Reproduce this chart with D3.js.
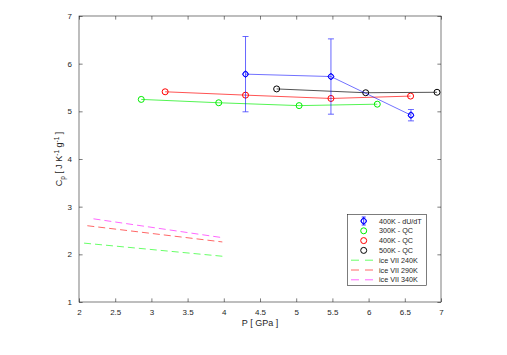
<!DOCTYPE html>
<html><head><meta charset="utf-8">
<script src="https://cdn.jsdelivr.net/npm/d3@7"></script>
<style>body{margin:0;background:#fff}svg{display:block}text{font-family:Helvetica,"Liberation Sans",Arial,sans-serif}</style>
</head><body><svg id="c" width="507" height="355"></svg>
<script>
const xTicks = [2, 2.5, 3, 3.5, 4, 4.5, 5, 5.5, 6, 6.5, 7];
const yTicks = [1, 2, 3, 4, 5, 6, 7];

const blueP = [4.30, 5.48, 6.585];
const blueCp = [5.78, 5.73, 4.92];
const blueErr = [0.79, 0.79, 0.12];

const greenP = [2.86, 3.93, 5.04, 6.12];
const greenCp = [5.25, 5.18, 5.12, 5.15];

const redP = [3.19, 4.30, 5.48, 6.58];
const redCp = [5.41, 5.34, 5.27, 5.32];

const blackP = [4.73, 5.96, 6.945];
const blackCp = [5.47, 5.39, 5.40];

const ice240P = [2.07, 3.98];
const ice240Cp = [2.235, 1.96];
const ice290P = [2.115, 3.98];
const ice290Cp = [2.60, 2.26];
const ice340P = [2.20, 3.98];
const ice340Cp = [2.745, 2.35];

const legendLabels = ["400K - dU/dT","300K - QC","400K - QC","500K - QC","ice VII 240K","ice VII 290K","ice VII 340K"];

const svg = d3.select("#c");
const L = 79, R = 441, T = 16, B = 302;
const x = d3.scaleLinear().domain([2, 7]).range([L, R]);
const y = d3.scaleLinear().domain([1, 7]).range([B, T]);
const axCol = "#262626";
const tl = 3.6;

svg.append("rect").attr("x", L).attr("y", T).attr("width", R - L).attr("height", B - T)
  .attr("fill", "#fff").attr("stroke", axCol).attr("stroke-width", 0.6);

const fmt = d => String(d);
const gx = svg.append("g").attr("transform", `translate(0,${B})`)
  .call(d3.axisBottom(x).tickValues(xTicks).tickFormat(fmt).tickSizeInner(-tl).tickSizeOuter(0).tickPadding(7));
const gxt = svg.append("g").attr("transform", `translate(0,${T})`)
  .call(d3.axisTop(x).tickValues(xTicks).tickFormat("").tickSizeInner(-tl).tickSizeOuter(0));
const gy = svg.append("g").attr("transform", `translate(${L},0)`)
  .call(d3.axisLeft(y).tickValues(yTicks).tickFormat(fmt).tickSizeInner(-tl).tickSizeOuter(0).tickPadding(7));
const gyr = svg.append("g").attr("transform", `translate(${R},0)`)
  .call(d3.axisRight(y).tickValues(yTicks).tickFormat("").tickSizeInner(-tl).tickSizeOuter(0));
[gx, gxt, gy, gyr].forEach(g => {
  g.select(".domain").remove();
  g.selectAll("line").attr("stroke", axCol).attr("stroke-width", 0.6);
  g.selectAll("text").attr("fill", axCol).attr("font-size", 8);
});

svg.append("text").attr("x", (L + R) / 2).attr("y", 326).attr("text-anchor", "middle")
  .attr("font-size", 9).attr("fill", axCol).text("P [ GPa ]");

const yl = svg.append("text").attr("transform", `translate(62,${(T + B) / 2}) rotate(-90)`)
  .attr("text-anchor", "middle").attr("font-size", 9).attr("fill", axCol);
yl.append("tspan").text("C");
yl.append("tspan").attr("font-size", 6.5).attr("dy", 2.5).text("p");
yl.append("tspan").attr("dy", -2.5).text(" [ J K");
yl.append("tspan").attr("font-size", 6.5).attr("dy", -3.5).text("-1");
yl.append("tspan").attr("dy", 3.5).text(" g");
yl.append("tspan").attr("font-size", 6.5).attr("dy", -3.5).text("-1");
yl.append("tspan").attr("dy", 3.5).text(" ]");

const line = d3.line().x(d => x(d[0])).y(d => y(d[1]));
const zip = (a, b) => a.map((v, i) => [v, b[i]]);

// ice VII dashed lines
[[ice240P, ice240Cp, "#00ff00"], [ice290P, ice290Cp, "#ff0000"], [ice340P, ice340Cp, "#ff00ff"]].forEach(([p, c, col]) => {
  svg.append("path").attr("d", line(zip(p, c))).attr("fill", "none").attr("stroke", col)
    .attr("stroke-width", 0.8).attr("stroke-dasharray", "7,4").attr("opacity", 0.75);
});

function series(p, c, col) {
  const d = zip(p, c);
  svg.append("path").attr("d", line(d)).attr("fill", "none").attr("stroke", col).attr("stroke-width", 0.8).attr("opacity", 0.85);
  svg.selectAll(null).data(d).enter().append("circle")
    .attr("cx", d => x(d[0])).attr("cy", d => y(d[1])).attr("r", 3)
    .attr("fill", "none").attr("stroke", col).attr("stroke-width", 1);
}
series(greenP, greenCp, "#00ee00");
series(redP, redCp, "#ff0000");
series(blackP, blackCp, "#000000");

// blue with error bars
const bcol = "#0000ff";
const bd = zip(blueP, blueCp);
svg.append("path").attr("d", line(bd)).attr("fill", "none").attr("stroke", bcol).attr("stroke-width", 0.8).attr("opacity", 0.7);
blueP.forEach((p, i) => {
  const cx = x(p), y1 = y(blueCp[i] + blueErr[i]), y0 = y(blueCp[i] - blueErr[i]);
  const g = svg.append("g").attr("stroke", bcol).attr("stroke-width", 0.8).attr("opacity", 0.75);
  g.append("line").attr("x1", cx).attr("x2", cx).attr("y1", y1).attr("y2", y0);
  g.append("line").attr("x1", cx - 3).attr("x2", cx + 3).attr("y1", y1).attr("y2", y1);
  g.append("line").attr("x1", cx - 3).attr("x2", cx + 3).attr("y1", y0).attr("y2", y0);
});
function blueMarker(cx, cy) {
  svg.append("circle").attr("cx", cx).attr("cy", cy).attr("r", 2.6).attr("fill", "none").attr("stroke", bcol).attr("stroke-width", 1);
  svg.append("path").attr("d", `M${cx},${cy - 3.5}L${cx + 3},${cy}L${cx},${cy + 3.5}L${cx - 3},${cy}Z`)
    .attr("fill", "none").attr("stroke", bcol).attr("stroke-width", 0.8);
}
bd.forEach(d => blueMarker(x(d[0]), y(d[1])));

// legend
const lx = 347.5, ly = 214.5, lw = 79, lh = 71;
svg.append("rect").attr("x", lx).attr("y", ly).attr("width", lw).attr("height", lh)
  .attr("fill", "#fff").attr("stroke", axCol).attr("stroke-width", 0.6);
const rowY = i => 221 + i * 9.8;
const mx = 363.7;
legendLabels.forEach((lab, i) => {
  const yy = rowY(i);
  svg.append("text").attr("x", 379).attr("y", yy + 2.6).attr("font-size", 7.2).attr("fill", axCol).text(lab);
});
// blue legend marker with small error bar
(function () {
  const yy = rowY(0);
  const g = svg.append("g").attr("stroke", bcol).attr("stroke-width", 0.8);
  g.append("line").attr("x1", mx).attr("x2", mx).attr("y1", yy - 4).attr("y2", yy + 4);
  g.append("line").attr("x1", mx - 2).attr("x2", mx + 2).attr("y1", yy - 4).attr("y2", yy - 4);
  g.append("line").attr("x1", mx - 2).attr("x2", mx + 2).attr("y1", yy + 4).attr("y2", yy + 4);
  blueMarker(mx, yy);
})();
["#00ee00", "#ff0000", "#000000"].forEach((col, i) => {
  svg.append("circle").attr("cx", mx).attr("cy", rowY(i + 1)).attr("r", 3)
    .attr("fill", "none").attr("stroke", col).attr("stroke-width", 1);
});
["#00ff00", "#ff0000", "#ff00ff"].forEach((col, i) => {
  const yy = rowY(i + 4);
  svg.append("line").attr("x1", 351).attr("x2", 374).attr("y1", yy).attr("y2", yy)
    .attr("stroke", col).attr("stroke-width", 0.8).attr("stroke-dasharray", "8,6").attr("opacity", 0.75);
});
</script></body></html>
